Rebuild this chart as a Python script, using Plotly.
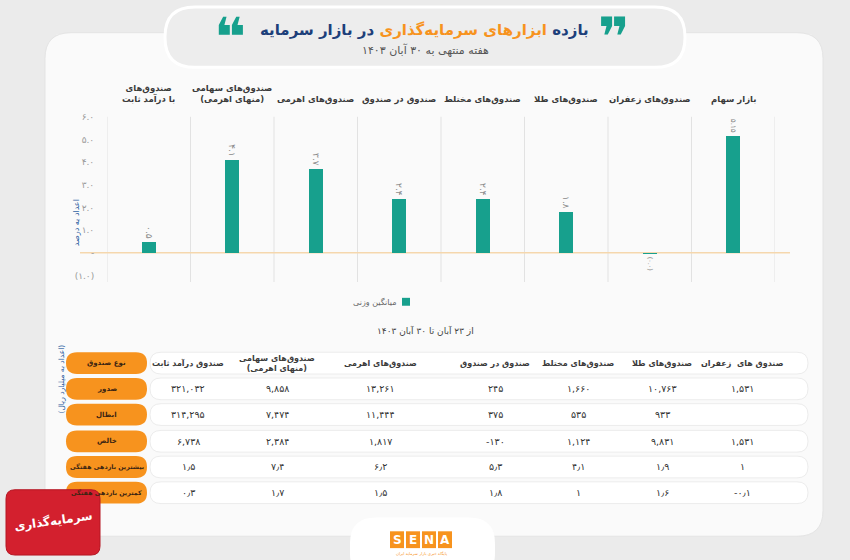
import plotly.graph_objects as go

W, H = 850, 560

# ---------------- data ----------------
categories = ["صندوق‌های<br>با درآمد ثابت", "صندوق‌های سهامی<br>(منهای اهرمی)", "صندوق‌های اهرمی",
              "صندوق در صندوق", "صندوق‌های مختلط", "صندوق‌های طلا", "صندوق‌های زعفران", "بازار سهام"]
returns_pct = [0.5, 4.1, 3.7, 2.4, 2.4, 1.8, -0.02, 5.15]
y_ticks = [-1, 0, 1, 2, 3, 4, 5, 6]

table_cols = ["صندوق درآمد ثابت", "صندوق‌های سهامی<br>(منهای اهرمی)", "صندوق‌های اهرمی",
              "صندوق در صندوق", "صندوق‌های مختلط", "صندوق‌های طلا", "صندوق های  زعفران"]
row_labels = ["نوع صندوق", "صدور", "ابطال", "خالص", "بیشترین بازدهی هفتگی", "کمترین بازدهی هفتگی"]
issuance = [321032, 9858, 13261, 245, 1660, 10763, 1531]
redemption = [314295, 7474, 11444, 375, 535, 933, None]
net_flow = [6738, 2384, 1817, -130, 1124, 9831, 1531]
max_weekly = [1.5, 7.4, 6.2, 5.3, 4.1, 1.9, 1]
min_weekly = [0.3, 1.7, 1.5, 1.8, 1, 1.6, -0.1]

# ---------------- helpers ----------------
FA = str.maketrans("0123456789", "۰۱۲۳۴۵۶۷۸۹")


def fa(s):
    return str(s).translate(FA)


def bar_label(v):
    if v < 0:
        return "(" + fa(f"{abs(v):.1f}") + ")"
    s = f"{v:.2f}".rstrip("0")
    if s.endswith("."):
        s += "0"
    return fa(s)


def tick_label(v):
    if v == 0:
        return "-"
    if v < 0:
        return "(" + fa(f"{abs(v):.1f}") + ")"
    return fa(f"{v:.1f}")


def int_cell(v):
    if v is None:
        return ""
    return fa(f"{v:,}")


def dec_cell(v):
    return fa(f"{v:g}").replace(".", "٫")


def px(x):
    return x / W


def py(y):
    return 1 - y / H


def rrect(x0, y0, x1, y1, r):
    pts = [
        ("M", [(x0 + r, y0)]), ("L", [(x1 - r, y0)]), ("Q", [(x1, y0), (x1, y0 + r)]),
        ("L", [(x1, y1 - r)]), ("Q", [(x1, y1), (x1 - r, y1)]), ("L", [(x0 + r, y1)]),
        ("Q", [(x0, y1), (x0, y1 - r)]), ("L", [(x0, y0 + r)]), ("Q", [(x0, y0), (x0 + r, y0)]),
    ]
    out = ""
    for cmd, ps in pts:
        out += cmd + " " + " ".join(f"{px(a):.5f},{py(b):.5f}" for a, b in ps) + " "
    return out + "Z"


FONT = "DejaVu Sans"
TEAL = "#17a08d"
ORANGE = "#f7931e"
BLUE = "#1d3f7a"

fig = go.Figure()
fig.add_trace(go.Bar(
    x=list(range(len(categories))), y=returns_pct, width=0.17,
    marker=dict(color=TEAL, line=dict(width=0)),
    text=[bar_label(v) for v in returns_pct], textposition="outside", textangle=90,
    textfont=dict(family=FONT, size=9, color="#8a8a8a"), cliponaxis=False,
    showlegend=False, hoverinfo="skip",
))

shapes = []
anns = []

# background card
shapes.append(dict(type="path", path=rrect(45, 28, 823, 537, 26), xref="paper", yref="paper",
                   fillcolor="#fafafa", line=dict(color="#e4e4e4", width=1), layer="below"))
# title pill
shapes.append(dict(type="path", path=rrect(165, 2, 685, 63, 30), xref="paper", yref="paper",
                   fillcolor="#ededed", line=dict(color="#ffffff", width=3), layer="below"))

# separators
for i in range(len(categories) + 1):
    shapes.append(dict(type="line", xref="x", yref="paper", x0=i - 0.5, x1=i - 0.5,
                       y0=py(280), y1=py(113), line=dict(color="#e2e2e2", width=1), layer="below"))
# zero line
shapes.append(dict(type="line", xref="paper", yref="y", x0=px(80), x1=px(790), y0=0, y1=0,
                   line=dict(color="#f5d7ad", width=1.5), layer="below"))

# category labels
for i, c in enumerate(categories):
    anns.append(dict(xref="x", yref="paper", x=i, y=py(103), yanchor="bottom", xanchor="center",
                     text="<b>" + c + "</b>", showarrow=False, align="center",
                     font=dict(family=FONT, size=8.5, color="#3a3a3a")))

# title
anns.append(dict(xref="paper", yref="paper", x=px(424), y=py(25), xanchor="center", yanchor="middle",
                 showarrow=False,
                 text=f"<b><span style='color:{BLUE}'>بازده</span> <span style='color:{ORANGE}'>ابزارهای سرمایه‌گذاری</span> <span style='color:{BLUE}'>در بازار سرمایه</span></b>",
                 font=dict(family=FONT, size=15, color=BLUE)))
anns.append(dict(xref="paper", yref="paper", x=px(425), y=py(45), xanchor="center", yanchor="middle",
                 showarrow=False, text="هفته منتهی به ۳۰ آبان ۱۴۰۳",
                 font=dict(family=FONT, size=11, color="#555555")))
anns.append(dict(xref="paper", yref="paper", x=px(614), y=py(33), xanchor="center", yanchor="middle",
                 showarrow=False, text="<b>❞</b>", font=dict(family=FONT, size=54, color=TEAL)))
anns.append(dict(xref="paper", yref="paper", x=px(230), y=py(33), xanchor="center", yanchor="middle",
                 showarrow=False, text="<b>❝</b>", font=dict(family=FONT, size=54, color=TEAL)))

# y axis title
anns.append(dict(xref="paper", yref="paper", x=px(70), y=py(220), textangle=-90, showarrow=False,
                 text="اعداد به درصد", font=dict(family=FONT, size=8, color="#2a5d9f")))

# legend
shapes.append(dict(type="rect", xref="paper", yref="paper", x0=px(402), x1=px(410), y0=py(304), y1=py(296),
                   fillcolor=TEAL, line=dict(width=0)))
anns.append(dict(xref="paper", yref="paper", x=px(398), y=py(300), xanchor="right", yanchor="middle",
                 showarrow=False, text="میانگین وزنی", font=dict(family=FONT, size=8, color="#666666")))
anns.append(dict(xref="paper", yref="paper", x=px(425), y=py(329), xanchor="center", yanchor="middle",
                 showarrow=False, text="از ۲۳ آبان تا ۳۰ آبان ۱۴۰۳",
                 font=dict(family=FONT, size=9, color="#444444")))

# table
col_x = [188, 277, 380, 495, 578, 662, 742]
row_y = [362, 388, 414, 441, 467, 493]
rows = [issuance, redemption, net_flow, max_weekly, min_weekly]
for r, yy in enumerate(row_y):
    shapes.append(dict(type="path", path=rrect(150, yy - 11, 808, yy + 11, 11), xref="paper", yref="paper",
                       fillcolor="#ffffff", line=dict(color="#ececec", width=1), layer="below"))
    shapes.append(dict(type="path", path=rrect(66, yy - 11, 147, yy + 11, 11), xref="paper", yref="paper",
                       fillcolor=ORANGE, line=dict(width=0), layer="below"))
    anns.append(dict(xref="paper", yref="paper", x=px(106.5), y=py(yy), xanchor="center", yanchor="middle",
                     showarrow=False, text="<b>" + row_labels[r] + "</b>",
                     font=dict(family=FONT, size=6.3 if len(row_labels[r]) > 12 else 7, color="#3b2412")))

for j, c in enumerate(table_cols):
    anns.append(dict(xref="paper", yref="paper", x=px(col_x[j]), y=py(row_y[0]), xanchor="center",
                     yanchor="middle", showarrow=False, text="<b>" + c + "</b>", align="center",
                     font=dict(family=FONT, size=8, color="#3a3a3a")))

for r, vals in enumerate(rows):
    for j, v in enumerate(vals):
        txt = int_cell(v) if r < 3 else dec_cell(v)
        anns.append(dict(xref="paper", yref="paper", x=px(col_x[j]), y=py(row_y[r + 1]), xanchor="center",
                         yanchor="middle", showarrow=False, text=txt,
                         font=dict(family=FONT, size=9.5, color="#333333")))

anns.append(dict(xref="paper", yref="paper", x=px(55), y=py(415), textangle=-90, showarrow=False,
                 text="(اعداد به میلیارد ریال)", font=dict(family=FONT, size=7.5, color="#2a5d9f")))

# SENA logo
shapes.append(dict(type="path", path=rrect(350, 518, 495, 580, 26), xref="paper", yref="paper",
                   fillcolor="#ffffff", line=dict(width=0)))
for k, letter in enumerate("SENA"):
    x0 = 390 + k * 16
    shapes.append(dict(type="rect", xref="paper", yref="paper", x0=px(x0), x1=px(x0 + 14),
                       y0=py(549), y1=py(532), fillcolor=ORANGE, line=dict(width=0)))
    anns.append(dict(xref="paper", yref="paper", x=px(x0 + 7), y=py(540.5), xanchor="center",
                     yanchor="middle", showarrow=False, text="<b>" + letter + "</b>",
                     font=dict(family=FONT, size=12, color="#ffffff")))
anns.append(dict(xref="paper", yref="paper", x=px(421), y=py(554), xanchor="center", yanchor="middle",
                 showarrow=False, text="پایگاه خبری بازار سرمایه ایران",
                 font=dict(family=FONT, size=4, color=ORANGE)))

# red watermark logo
shapes.append(dict(type="path", path=rrect(6, 490, 100, 556, 9), xref="paper", yref="paper",
                   fillcolor="#d3202e", line=dict(color="#b51623", width=1)))
anns.append(dict(xref="paper", yref="paper", x=px(53), y=py(522), xanchor="center", yanchor="middle",
                 showarrow=False, text="<b>سرمایه‌گذاری</b>", textangle=-8,
                 font=dict(family=FONT, size=12, color="#ffffff")))

fig.update_layout(
    width=W, height=H, autosize=False,
    margin=dict(l=0, r=0, t=0, b=0),
    paper_bgcolor="#ebebeb", plot_bgcolor="rgba(0,0,0,0)",
    shapes=shapes, annotations=anns, showlegend=False,
    xaxis=dict(domain=[px(107), px(775)], range=[-0.5, len(categories) - 0.5], showticklabels=False,
               showgrid=False, zeroline=False, showline=False, fixedrange=True),
    yaxis=dict(domain=[py(278), py(113)], range=[-1.2, 6.0], tickvals=y_ticks,
               ticktext=[tick_label(v) for v in y_ticks], showgrid=False, zeroline=False, showline=False,
               ticks="outside", ticklen=10, tickcolor="rgba(0,0,0,0)",
               tickfont=dict(family=FONT, size=9, color="#999999"), fixedrange=True),
    bargap=0,
)

fig.write_html("out.html")
